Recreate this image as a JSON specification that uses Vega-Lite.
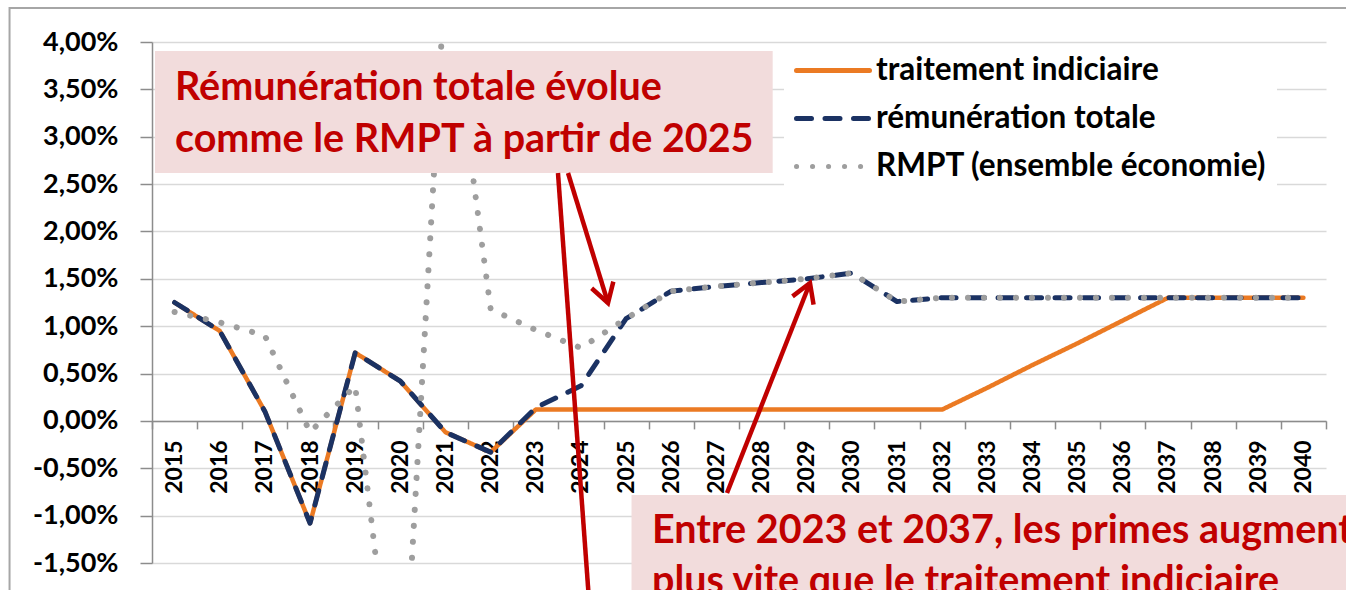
{
  "$schema": "https://vega.github.io/schema/vega-lite/v6.json",
  "autosize": "none",
  "width": 1174,
  "height": 521,
  "padding": {"left": 152, "top": 42, "right": 20, "bottom": 27},
  "background": "white",
  "config": {
    "view": {"stroke": null},
    "font": "Lato",
    "legend": {
      "orient": "none",
      "legendX": 632,
      "legendY": 5,
      "fillColor": "white",
      "padding": 10,
      "symbolType": "stroke",
      "symbolSize": 5329,
      "symbolStrokeWidth": 5,
      "clipHeight": 27,
      "rowPadding": 16,
      "labelOffset": 4,
      "labelFont": "Lato",
      "labelFontWeight": "bold",
      "labelFontSize": 31.5,
      "labelColor": "black",
      "labelLimit": 600
    }
  },
  "data": {
    "values": [
      {"year": 2015, "serie": "traitement indiciaire", "value": 1.25},
      {"year": 2016, "serie": "traitement indiciaire", "value": 0.95},
      {"year": 2017, "serie": "traitement indiciaire", "value": 0.10},
      {"year": 2018, "serie": "traitement indiciaire", "value": -1.08},
      {"year": 2019, "serie": "traitement indiciaire", "value": 0.72},
      {"year": 2020, "serie": "traitement indiciaire", "value": 0.42},
      {"year": 2021, "serie": "traitement indiciaire", "value": -0.12},
      {"year": 2022, "serie": "traitement indiciaire", "value": -0.33},
      {"year": 2023, "serie": "traitement indiciaire", "value": 0.12},
      {"year": 2024, "serie": "traitement indiciaire", "value": 0.12},
      {"year": 2025, "serie": "traitement indiciaire", "value": 0.12},
      {"year": 2026, "serie": "traitement indiciaire", "value": 0.12},
      {"year": 2027, "serie": "traitement indiciaire", "value": 0.12},
      {"year": 2028, "serie": "traitement indiciaire", "value": 0.12},
      {"year": 2029, "serie": "traitement indiciaire", "value": 0.12},
      {"year": 2030, "serie": "traitement indiciaire", "value": 0.12},
      {"year": 2031, "serie": "traitement indiciaire", "value": 0.12},
      {"year": 2032, "serie": "traitement indiciaire", "value": 0.12},
      {"year": 2033, "serie": "traitement indiciaire", "value": 0.35},
      {"year": 2034, "serie": "traitement indiciaire", "value": 0.59},
      {"year": 2035, "serie": "traitement indiciaire", "value": 0.82},
      {"year": 2036, "serie": "traitement indiciaire", "value": 1.06},
      {"year": 2037, "serie": "traitement indiciaire", "value": 1.30},
      {"year": 2038, "serie": "traitement indiciaire", "value": 1.30},
      {"year": 2039, "serie": "traitement indiciaire", "value": 1.30},
      {"year": 2040, "serie": "traitement indiciaire", "value": 1.30},
      {"year": 2015, "serie": "rémunération totale", "value": 1.25},
      {"year": 2016, "serie": "rémunération totale", "value": 0.95},
      {"year": 2017, "serie": "rémunération totale", "value": 0.10},
      {"year": 2018, "serie": "rémunération totale", "value": -1.08},
      {"year": 2019, "serie": "rémunération totale", "value": 0.72},
      {"year": 2020, "serie": "rémunération totale", "value": 0.42},
      {"year": 2021, "serie": "rémunération totale", "value": -0.12},
      {"year": 2022, "serie": "rémunération totale", "value": -0.33},
      {"year": 2023, "serie": "rémunération totale", "value": 0.14},
      {"year": 2024, "serie": "rémunération totale", "value": 0.37},
      {"year": 2025, "serie": "rémunération totale", "value": 1.08},
      {"year": 2026, "serie": "rémunération totale", "value": 1.37},
      {"year": 2027, "serie": "rémunération totale", "value": 1.42},
      {"year": 2028, "serie": "rémunération totale", "value": 1.46},
      {"year": 2029, "serie": "rémunération totale", "value": 1.50},
      {"year": 2030, "serie": "rémunération totale", "value": 1.56},
      {"year": 2031, "serie": "rémunération totale", "value": 1.26},
      {"year": 2032, "serie": "rémunération totale", "value": 1.30},
      {"year": 2033, "serie": "rémunération totale", "value": 1.30},
      {"year": 2034, "serie": "rémunération totale", "value": 1.30},
      {"year": 2035, "serie": "rémunération totale", "value": 1.30},
      {"year": 2036, "serie": "rémunération totale", "value": 1.30},
      {"year": 2037, "serie": "rémunération totale", "value": 1.30},
      {"year": 2038, "serie": "rémunération totale", "value": 1.30},
      {"year": 2039, "serie": "rémunération totale", "value": 1.30},
      {"year": 2040, "serie": "rémunération totale", "value": 1.30},
      {"year": 2015, "serie": "RMPT (ensemble économie)", "value": 1.15},
      {"year": 2016, "serie": "RMPT (ensemble économie)", "value": 1.04},
      {"year": 2017, "serie": "RMPT (ensemble économie)", "value": 0.90},
      {"year": 2018, "serie": "RMPT (ensemble économie)", "value": -0.12},
      {"year": 2019, "serie": "RMPT (ensemble économie)", "value": 0.37},
      {"year": 2020, "serie": "RMPT (ensemble économie)", "value": -3.60},
      {"year": 2021, "serie": "RMPT (ensemble économie)", "value": 4.75},
      {"year": 2022, "serie": "RMPT (ensemble économie)", "value": 1.18},
      {"year": 2023, "serie": "RMPT (ensemble économie)", "value": 0.96},
      {"year": 2024, "serie": "RMPT (ensemble économie)", "value": 0.77},
      {"year": 2025, "serie": "RMPT (ensemble économie)", "value": 1.08},
      {"year": 2026, "serie": "RMPT (ensemble économie)", "value": 1.37},
      {"year": 2027, "serie": "RMPT (ensemble économie)", "value": 1.42},
      {"year": 2028, "serie": "RMPT (ensemble économie)", "value": 1.46},
      {"year": 2029, "serie": "RMPT (ensemble économie)", "value": 1.50},
      {"year": 2030, "serie": "RMPT (ensemble économie)", "value": 1.56},
      {"year": 2031, "serie": "RMPT (ensemble économie)", "value": 1.26},
      {"year": 2032, "serie": "RMPT (ensemble économie)", "value": 1.30},
      {"year": 2033, "serie": "RMPT (ensemble économie)", "value": 1.30},
      {"year": 2034, "serie": "RMPT (ensemble économie)", "value": 1.30},
      {"year": 2035, "serie": "RMPT (ensemble économie)", "value": 1.30},
      {"year": 2036, "serie": "RMPT (ensemble économie)", "value": 1.30},
      {"year": 2037, "serie": "RMPT (ensemble économie)", "value": 1.30},
      {"year": 2038, "serie": "RMPT (ensemble économie)", "value": 1.30},
      {"year": 2039, "serie": "RMPT (ensemble économie)", "value": 1.30},
      {"year": 2040, "serie": "RMPT (ensemble économie)", "value": 1.30}
    ]
  },
  "resolve": {"axis": {"x": "independent"}},
  "layer": [
    {
      "layer": [
        {
          "data": {"values": [{}]},
          "mark": {"type": "rect", "fill": null, "stroke": "#A6A6A6", "strokeWidth": 2, "clip": false},
          "encoding": {
            "x": {"datum": 2011.345, "type": "quantitative"},
            "x2": {"datum": 2042.5},
            "y": {"datum": 4.359, "type": "quantitative"},
            "y2": {"datum": -2.6}
          }
        },
        {
          "transform": [{"filter": "datum.serie === 'traitement indiciaire'"}],
          "mark": {"type": "line", "strokeWidth": 4.5, "strokeCap": "round", "strokeJoin": "round", "clip": true},
          "encoding": {
            "x": {
              "field": "year", "type": "quantitative",
              "scale": {"domain": [2014.5, 2040.5], "nice": false, "zero": false},
              "axis": {
                "title": null, "orient": "bottom", "offset": -142.1,
                "values": [2015, 2016, 2017, 2018, 2019, 2020, 2021, 2022, 2023, 2024, 2025, 2026, 2027, 2028, 2029, 2030, 2031, 2032, 2033, 2034, 2035, 2036, 2037, 2038, 2039, 2040],
                "format": "d",
                "labelAngle": 270,
                "labelFont": "Lato", "labelFontWeight": "bold", "labelFontSize": 23, "labelColor": "black",
                "labelPadding": 19, "labelOverlap": false, "labelBound": false, "labelFlush": false,
                "ticks": false,
                "domainColor": "#8C8C8C", "domainWidth": 1.5, "grid": false
              }
            },
            "y": {
              "field": "value", "type": "quantitative",
              "scale": {"domain": [-1.5, 4], "nice": false, "zero": false},
              "axis": {
                "title": null,
                "values": [-1.5, -1, -0.5, 0, 0.5, 1, 1.5, 2, 2.5, 3, 3.5, 4],
                "labelExpr": "(datum.value < 0 ? '-' : '') + replace(format(abs(datum.value), '.2f'), '.', ',') + '%'",
                "labelFont": "Lato", "labelFontWeight": "bold", "labelFontSize": 27, "labelColor": "black",
                "labelPadding": 22, "tickSize": 12, "tickColor": "#8C8C8C", "tickWidth": 1.5,
                "domainColor": "#8C8C8C", "domainWidth": 1.5,
                "grid": true, "gridColor": "#D9D9D9", "gridWidth": 1.5
              }
            },
            "color": {
              "field": "serie", "type": "nominal", "title": null,
              "scale": {"domain": ["traitement indiciaire", "rémunération totale", "RMPT (ensemble économie)"], "range": ["#EB7A23", "#1B3263", "#9E9E9E"]},
              "legend": {"encode": {"symbols": {"update": {"strokeCap": {"value": "round"}}}}}
            },
            "strokeDash": {
              "field": "serie", "type": "nominal", "title": null,
              "scale": {"domain": ["traitement indiciaire", "rémunération totale", "RMPT (ensemble économie)"], "range": [[1, 0], [15, 13.5], [0.1, 15.9]]},
              "legend": {"encode": {"symbols": {"update": {"strokeCap": {"value": "round"}}}}}
            }
          }
        },
        {
          "transform": [{"filter": "datum.serie === 'rémunération totale'"}],
          "mark": {"type": "line", "strokeWidth": 5, "strokeCap": "round", "strokeJoin": "round", "clip": true},
          "encoding": {
            "x": {"field": "year", "type": "quantitative"},
            "y": {"field": "value", "type": "quantitative"},
            "color": {"field": "serie", "type": "nominal"},
            "strokeDash": {"field": "serie", "type": "nominal"}
          }
        },
        {
          "transform": [{"filter": "datum.serie === 'RMPT (ensemble économie)'"}],
          "mark": {"type": "line", "strokeWidth": 6, "strokeCap": "round", "strokeJoin": "round", "clip": true},
          "encoding": {
            "x": {"field": "year", "type": "quantitative"},
            "y": {"field": "value", "type": "quantitative"},
            "color": {"field": "serie", "type": "nominal"},
            "strokeDash": {"field": "serie", "type": "nominal"}
          }
        }
      ]
    },
    {
      "layer": [
        {
          "data": {"values": [{}]},
          "mark": {"type": "rect", "fill": "#F2DCDC", "clip": false},
          "encoding": {
            "x": {
              "datum": 2014.566, "type": "quantitative",
              "axis": {
                "title": null, "orient": "bottom", "offset": -142.1,
                "values": [2014.5, 2015.5, 2016.5, 2017.5, 2018.5, 2019.5, 2020.5, 2021.5, 2022.5, 2023.5, 2024.5, 2025.5, 2026.5, 2027.5, 2028.5, 2029.5, 2030.5, 2031.5, 2032.5, 2033.5, 2034.5, 2035.5, 2036.5, 2037.5, 2038.5, 2039.5, 2040.5],
                "labels": false, "domain": false, "grid": false,
                "ticks": true, "tickSize": 8, "tickColor": "#8C8C8C", "tickWidth": 1.5
              }
            },
            "x2": {"datum": 2028.246},
            "y": {"datum": 3.905, "type": "quantitative"},
            "y2": {"datum": 2.617}
          }
        },
        {
          "data": {"values": [{}]},
          "mark": {"type": "text", "text": ["Rémunération totale évolue", "comme le RMPT à partir de 2025"], "align": "left", "baseline": "alphabetic", "lineHeight": 52, "font": "Lato", "fontWeight": "bold", "fontSize": 39.5, "color": "#C00000", "clip": false},
          "encoding": {
            "x": {"datum": 2015.009, "type": "quantitative"},
            "y": {"datum": 3.388, "type": "quantitative"}
          }
        },
        {
          "data": {"values": [{}]},
          "mark": {"type": "rect", "fill": "#F2DCDC", "clip": false},
          "encoding": {
            "x": {"datum": 2025.12, "type": "quantitative"},
            "x2": {"datum": 2042.5},
            "y": {"datum": -0.782, "type": "quantitative"},
            "y2": {"datum": -2.6}
          }
        },
        {
          "data": {"values": [{}]},
          "mark": {"type": "text", "text": ["Entre 2023 et 2037, les primes augmentent", "plus vite que le traitement indiciaire"], "align": "left", "baseline": "alphabetic", "lineHeight": 51, "font": "Lato", "fontWeight": "bold", "fontSize": 39.5, "color": "#C00000", "clip": false},
          "encoding": {
            "x": {"datum": 2025.573, "type": "quantitative"},
            "y": {"datum": -1.289, "type": "quantitative"}
          }
        },
        {
          "data": {"values": [{}]},
          "mark": {"type": "rule", "color": "#C00000", "strokeWidth": 4.5, "clip": false},
          "encoding": {
            "x": {"datum": 2023.713, "type": "quantitative"},
            "y": {"datum": 2.617, "type": "quantitative"},
            "x2": {"datum": 2024.599},
            "y2": {"datum": 1.245}
          }
        },
        {
          "data": {"values": [{}]},
          "mark": {"type": "rule", "color": "#C00000", "strokeWidth": 4.5, "clip": false},
          "encoding": {
            "x": {"datum": 2023.491, "type": "quantitative"},
            "y": {"datum": 2.617, "type": "quantitative"},
            "x2": {"datum": 2024.178},
            "y2": {"datum": -1.891}
          }
        },
        {
          "data": {"values": [{}]},
          "mark": {"type": "rule", "color": "#C00000", "strokeWidth": 4.5, "clip": false},
          "encoding": {
            "x": {"datum": 2027.234, "type": "quantitative"},
            "y": {"datum": -0.761, "type": "quantitative"},
            "x2": {"datum": 2029.072},
            "y2": {"datum": 1.456}
          }
        },
        {
          "data": {"values": [{}]},
          "mark": {"type": "point", "shape": "M -1 -0.6 L 0 0 L -1 0.6", "size": 1428, "angle": 73, "filled": false, "stroke": "#C00000", "strokeWidth": 4.5, "opacity": 1, "strokeOpacity": 1, "clip": false},
          "encoding": {
            "x": {"datum": 2024.599, "type": "quantitative"},
            "y": {"datum": 1.245, "type": "quantitative"}
          }
        },
        {
          "data": {"values": [{}]},
          "mark": {"type": "point", "shape": "M -1 -0.6 L 0 0 L -1 0.6", "size": 1428, "angle": 291.6, "filled": false, "stroke": "#C00000", "strokeWidth": 4.5, "opacity": 1, "strokeOpacity": 1, "clip": false},
          "encoding": {
            "x": {"datum": 2029.072, "type": "quantitative"},
            "y": {"datum": 1.456, "type": "quantitative"}
          }
        }
      ]
    }
  ]
}
